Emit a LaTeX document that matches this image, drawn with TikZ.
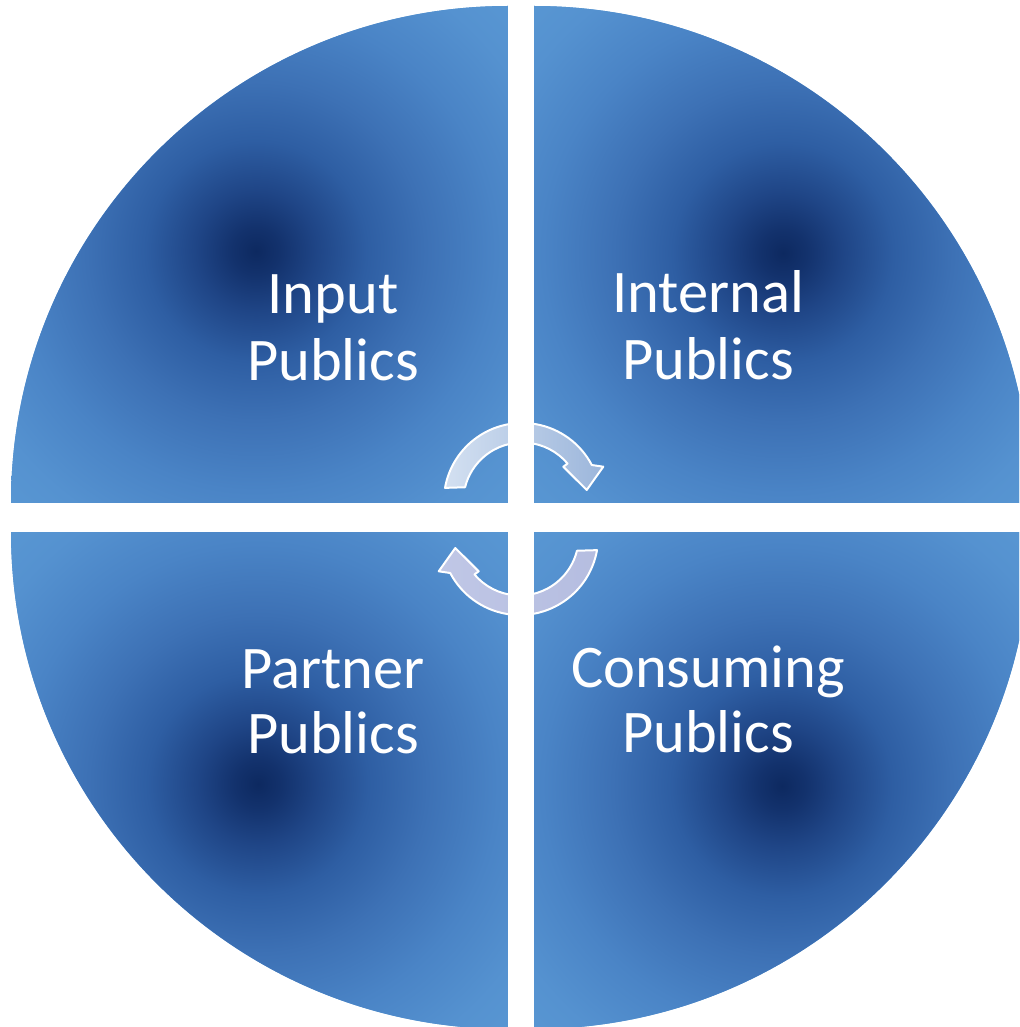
\documentclass[tikz,border=0pt]{standalone}
\usepackage{fontspec}
\setmainfont{Carlito}
\definecolor{q0}{HTML}{0D2960}
\definecolor{q1}{HTML}{13326D}
\definecolor{q2}{HTML}{1F4586}
\definecolor{q3}{HTML}{2E5EA3}
\definecolor{q4}{HTML}{3D71B5}
\definecolor{q5}{HTML}{4A84C6}
\definecolor{q6}{HTML}{5592D0}
\definecolor{q7}{HTML}{5B9BD5}
\definecolor{arL}{HTML}{D3E0F1}
\definecolor{arM}{HTML}{E2EAF6}
\definecolor{arR}{HTML}{9CB6DB}
\definecolor{abL}{HTML}{B5BDE0}
\definecolor{abR}{HTML}{C0C7E6}
% 1bp of the shading = 16px of the picture (radius 400 = 25bp)
\pgfdeclareradialshading{quadshade}{\pgfpoint{0bp}{0bp}}{color(0bp)=(q0); color(1.5bp)=(q1); color(3.75bp)=(q2); color(6.9bp)=(q3); color(10.6bp)=(q4); color(15bp)=(q5); color(19.4bp)=(q6); color(25bp)=(q7); color(50bp)=(q7)}
\tikzset{
  lbl/.style={text=white, font=\fontsize{60.5}{65}\selectfont, inner sep=0pt, anchor=base},
  arrowline/.style={draw=white, line width=2pt, line join=round},
  gapbar/.style={fill=white, draw=none}
}
\newcommand{\circarrowpath}{(522.3,501.5) ++(-170:78.5) arc[start angle=-170, end angle=-27.7, radius=78.5]
  -- (603.3,466.7) -- (586.7,490) -- (563.3,466.7) -- (567.5,463.6)
  arc[start angle=-40, end angle=-166, radius=59] -- cycle}
\begin{document}
\begin{tikzpicture}[x=1pt, y=-1pt]
\useasboundingbox (0,0) rectangle (1019,1027);
\fill[white] (0,0) rectangle (1019,1027);
\clip (0,0) rectangle (1019,1027);
% quadrants
\begin{scope}
  \clip (508,503) -- ++(-497,0) arc[start angle=180, end angle=270, radius=497] -- cycle;
  \fill[q7] (0,0) rectangle (520,520);
  \shade[shading=quadshade] (256,251) circle[radius=400];
\end{scope}
\begin{scope}
  \clip (534,503) -- ++(0,-497) arc[start angle=270, end angle=360, radius=497] -- cycle;
  \fill[q7] (520,0) rectangle (1040,520);
  \shade[shading=quadshade] (783,253) circle[radius=400];
\end{scope}
\begin{scope}
  \clip (508,532) -- ++(0,497) arc[start angle=90, end angle=180, radius=497] -- cycle;
  \fill[q7] (0,520) rectangle (520,1040);
  \shade[shading=quadshade] (258,784) circle[radius=400];
\end{scope}
\begin{scope}
  \clip (534,532) -- ++(497,0) arc[start angle=0, end angle=90, radius=497] -- cycle;
  \fill[q7] (520,520) rectangle (1040,1040);
  \shade[shading=quadshade] (782,786) circle[radius=400];
\end{scope}
% circular arrows
\shade[arrowline, left color=arL, middle color=arM, right color=arR] \circarrowpath;
\begin{scope}[rotate around={180:(521,519)}]
\shade[arrowline, left color=abR, right color=abL] \circarrowpath;
\end{scope}
% white gaps drawn over the arrows
\fill[gapbar] (508,0) rectangle (534,1027);
\fill[gapbar] (0,503) rectangle (1019,532);
% labels
\node[lbl] (tl1) at (333,313) {Input};
\node[lbl] (tl2) at (333,380) {Publics};
\node[lbl] (tr1) at (708,312) {Internal};
\node[lbl] (tr2) at (708,379) {Publics};
\node[lbl] (bl1) at (333,688) {Partner};
\node[lbl] (bl2) at (333,753) {Publics};
\node[lbl] (br1) at (708,687) {Consuming};
\node[lbl] (br2) at (708,752) {Publics};
\end{tikzpicture}
\end{document}
